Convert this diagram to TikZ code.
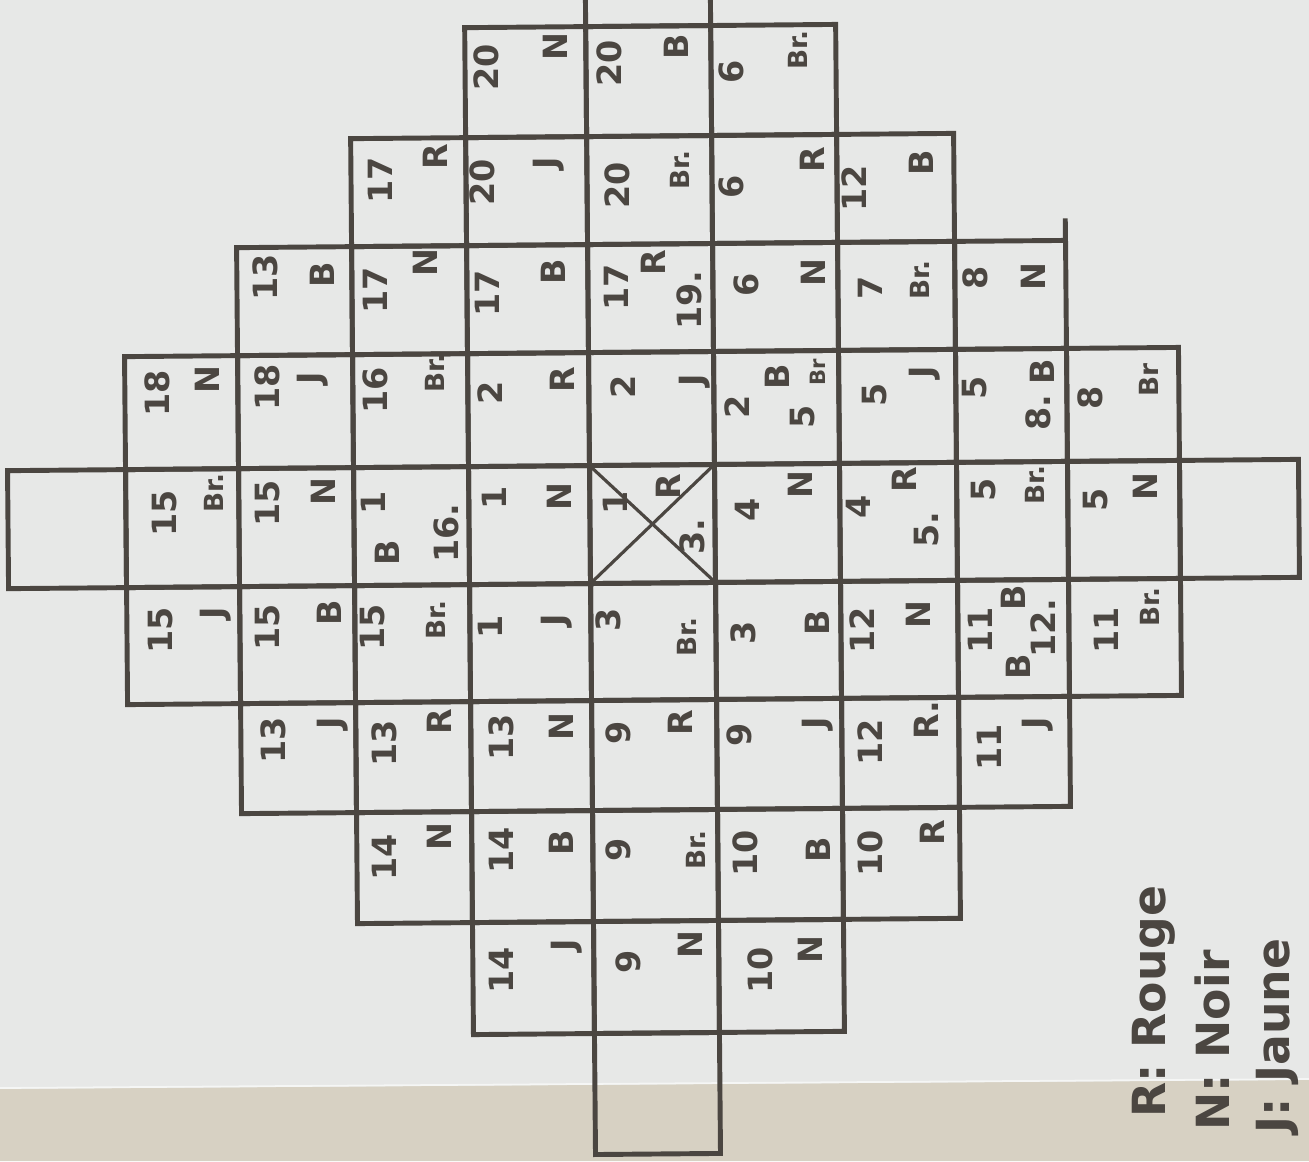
\documentclass[tikz,border=0pt]{standalone}
\usepackage{fontspec}
\setmainfont{DejaVu Sans}
\definecolor{paper}{HTML}{E7E8E7}
\definecolor{beige}{HTML}{D7D1C3}
\definecolor{ink}{HTML}{4B4641}
\tikzset{
  gridline/.style={draw=ink, line width=2.8pt, line join=miter},
  xline/.style={draw=ink, line width=1.8pt},
  tx/.style={rotate=90, inner sep=0pt, text=ink, font=\fontsize{19}{19}\selectfont\bfseries},
  sm/.style={tx, font=\fontsize{15}{15}\selectfont\bfseries},
  xs/.style={tx, font=\fontsize{12}{12}\selectfont\bfseries},
  lg/.style={rotate=90, inner sep=0pt, anchor=base west, text=ink, font=\fontsize{26}{26}\selectfont\bfseries}
}
\newcommand\gridrow[4]{%
  \foreach \c in {#3,...,#4}{%
    \pgfmathsetmacro\xl{{8,126,239,354,469,590,715,840,957,1068,1180,1299}[\c]}%
    \pgfmathsetmacro\xr{{8,126,239,354,469,590,715,840,957,1068,1180,1299}[\c+1]}%
    \draw[gridline] (\xl,#1) rectangle (\xr,#2);
  }}
% optional #1 = style of letter, #2 name, #3,#4 number pos, #5 number, #6,#7 letter pos, #8 letter
\newcommand\cl[8][tx]{%
  \node[tx] (#2n) at (#3,#4) {#5};
  \node[#1] (#2l) at (#6,#7) {#8};}
\begin{document}
\begin{tikzpicture}[x=0.02cm, y=-0.02cm]
\useasboundingbox (0,0) rectangle (1309,1161);
\fill[paper] (0,0) rectangle (1309,1161);
\fill[beige] (0,1089) -- (1309,1080) -- (1309,1161) -- (0,1161) -- cycle;
\draw[white!60!paper, line width=1pt] (0,1088) -- (1309,1079);

\begin{scope}[rotate around={0.5:(654,524)}]
  \gridrow{-40}{26}{5}{5}
  \gridrow{26}{136}{4}{6}
  \gridrow{136}{244}{3}{7}
  \gridrow{244}{352}{2}{8}
  \gridrow{352}{465}{1}{9}
  \gridrow{465}{583}{0}{10}
  \gridrow{583}{700}{1}{9}
  \gridrow{700}{810}{2}{8}
  \gridrow{810}{921}{3}{7}
  \gridrow{921}{1033}{4}{6}
  \gridrow{1033}{1154}{5}{5}
  \coordinate (xa) at (590,465);
  \coordinate (xb) at (715,583);
  \coordinate (xc) at (715,465);
  \coordinate (xd) at (590,583);
  \draw[xline] (xa) -- (xb);
  \draw[xline] (xc) -- (xd);
  \coordinate (ta) at (1068,222);
  \coordinate (tb) at (1068,244);
  \draw[gridline] (ta) -- (tb);
\end{scope}

% row 1
\cl{ra}{486}{67}{20}{555}{47}{N}
\cl{rb}{609}{63}{20}{676}{47}{B}
\cl[sm]{rc}{731}{72}{6}{798}{50}{Br.}
% row 2
\cl{sa}{380}{180}{17}{435}{157}{R}
\cl{sb}{482}{182}{20}{549}{163}{J}
\cl[sm]{sc}{617}{185}{20}{680}{170}{Br.}
\cl{sd}{731}{187}{6}{812}{160}{R}
\cl{se}{854}{188}{12}{921}{163}{B}
% row 3
\cl{ta}{265}{277}{13}{322}{275}{B}
\cl{tb}{375}{290}{17}{425}{263}{N}
\cl{tc}{487}{293}{17}{553}{272}{B}
\cl{td}{616}{287}{17}{653}{263}{R}
\node[tx] (tdx) at (689,300) {19.};
\cl{te}{746}{285}{6}{813}{273}{N}
\cl[sm]{tf}{870}{288}{7}{920}{280}{Br.}
\cl{tg}{975}{278}{8}{1033}{277}{N}
% row 4
\cl{ua}{157}{393}{18}{207}{380}{N}
\cl{ub}{267}{387}{18}{313}{378}{J}
\cl[sm]{uc}{375}{390}{16}{435}{373}{Br.}
\cl{ud}{490}{393}{2}{562}{380}{R}
\cl{ue}{623}{387}{2}{695}{380}{J}
\cl{uf}{737}{407}{2}{777}{377}{B}
\node[tx] (ufx) at (803,417) {5};
\node[xs] (ufy) at (818,372) {Br};
\cl{ug}{875}{395}{5}{925}{372}{J}
\cl{uh}{975}{388}{5}{1042}{372}{B}
\node[tx] (uhx) at (1038,413) {8.};
\cl[sm]{ui}{1090}{398}{8}{1149}{380}{Br}
% row 5
\cl[sm]{va}{165}{513}{15}{214}{493}{Br.}
\cl{vb}{268}{503}{15}{323}{492}{N}
\cl{vc}{373}{503}{1}{387}{553}{B}
\node[tx] (vcx) at (446,533) {16.};
\cl{vd}{494}{498}{1}{559}{497}{N}
\cl{ve}{615}{503}{1}{668}{487}{R}
\node[tx] (vex) at (692,537) {3.};
\cl{vf}{747}{510}{4}{800}{485}{N}
\cl{vg}{858}{507}{4}{904}{480}{R}
\node[tx] (vgx) at (927,530) {5.};
\cl[sm]{vh}{984}{490}{5}{1035}{485}{Br.}
\cl{vi}{1096}{500}{5}{1145}{487}{N}
% row 6
\cl{wa}{161}{630}{15}{216}{613}{J}
\cl{wb}{268}{627}{15}{329}{613}{B}
\cl[sm]{wc}{373}{627}{15}{436}{620}{Br.}
\cl{wd}{490}{627}{1}{557}{620}{J}
\cl[sm]{we}{608}{620}{3}{687}{637}{Br.}
\cl{wf}{743}{633}{3}{817}{623}{B}
\cl{wg}{862}{630}{12}{918}{615}{N}
\cl{wh}{980}{630}{11}{1013}{598}{B}
\node[tx] (whx) at (1018,667) {B};
\node[tx] (why) at (1043,628) {12.};
\cl[sm]{wi}{1106}{630}{11}{1150}{607}{Br.}
% row 7
\cl{xa}{273}{740}{13}{333}{723}{J}
\cl{xb}{384}{743}{13}{439}{722}{R}
\cl{xc}{501}{737}{13}{561}{727}{N}
\cl{xd}{618}{733}{9}{680}{723}{R}
\cl{xe}{739}{735}{9}{818}{723}{J}
\cl{xf}{870}{742}{12}{926}{720}{R.}
\cl{xg}{989}{747}{11}{1038}{723}{J}
% row 8
\cl{ya}{384}{857}{14}{439}{837}{N}
\cl{yb}{501}{850}{14}{561}{843}{B}
\cl[sm]{yc}{618}{850}{9}{696}{850}{Br.}
\cl{yd}{745}{853}{10}{818}{850}{B}
\cl{ye}{870}{853}{10}{932}{833}{R}
% row 9
\cl{za}{501}{970}{14}{567}{945}{J}
\cl{zb}{628}{962}{9}{690}{945}{N}
\cl{zc}{760}{970}{10}{810}{950}{N}

% legend
\node[lg] (lr) at (1165,1118) {R: Rouge};
\node[lg] (ln) at (1229,1131) {N: Noir};
\node[lg] (lj) at (1289,1134) {J: Jaune};
\end{tikzpicture}
\end{document}
